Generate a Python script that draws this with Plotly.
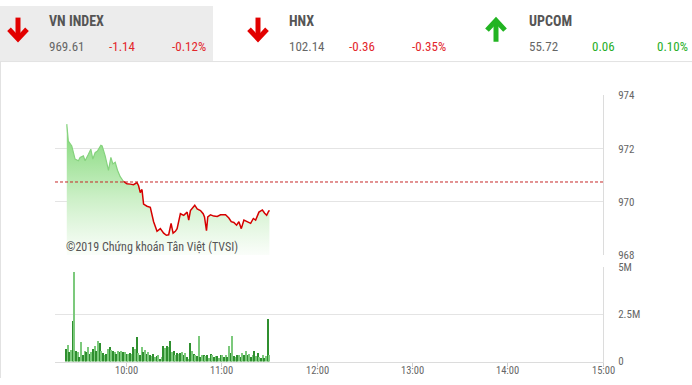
import plotly.graph_objects as go
import pandas as pd

W, H = 692, 385
DAY = "2019-06-20"

# ---------------- data ----------------
price_times = [
    "09:22:25", "09:23:24", "09:25:33", "09:27:38", "09:29:43", "09:30:47", "09:32:52", "09:33:57",
    "09:36:02", "09:37:33", "09:38:49", "09:40:16", "09:41:43", "09:43:52", "09:44:41", "09:46:35",
    "09:48:40", "09:50:11", "09:51:26", "09:52:54", "09:54:21", "09:56:03", "09:58:08", "10:00:17",
    "10:02:22", "10:04:27", "10:06:36", "10:07:37", "10:08:41", "10:09:46", "10:10:46", "10:12:55",
    "10:15:00", "10:17:05", "10:19:14", "10:21:19", "10:23:24", "10:25:07", "10:26:34", "10:28:05",
    "10:29:20", "10:30:47", "10:31:52", "10:33:57", "10:36:02", "10:38:11", "10:39:11", "10:40:16",
    "10:42:59", "10:44:30", "10:46:35", "10:48:17", "10:49:07", "10:50:22", "10:51:11", "10:52:54",
    "10:54:59", "10:57:08", "10:59:13", "11:02:22", "11:04:27", "11:05:58", "11:07:37", "11:09:19",
    "11:10:46", "11:12:17", "11:13:56", "11:16:05", "11:18:10", "11:19:52", "11:21:19", "11:23:24",
    "11:25:33", "11:27:00", "11:28:16", "11:29:43", "11:30:00",
]
price_values = [
    972.92, 972.28, 972.10, 971.61, 971.55, 971.67, 971.73, 971.55, 971.79, 971.98, 971.61, 971.85,
    971.91, 972.13, 972.10, 971.73, 971.19, 971.67, 971.43, 971.49, 971.19, 970.95, 970.77, 970.68,
    970.67, 970.65, 970.73, 970.61, 970.35, 970.47, 969.92, 969.84, 969.80, 969.26, 968.90, 969.00,
    968.83, 968.75, 968.77, 969.20, 968.83, 968.90, 969.00, 969.56, 969.50, 969.62, 969.32, 969.68,
    969.88, 969.74, 969.68, 969.56, 969.44, 968.92, 969.44, 969.52, 969.47, 969.46, 969.52, 969.52,
    969.40, 969.26, 969.23, 969.13, 969.26, 969.00, 969.32, 969.26, 969.20, 969.38, 969.32, 969.62,
    969.70, 969.58, 969.50, 969.68, 969.64,
]
ref_value = 970.75
cross_index = 22  # last point at/above the reference line

# volume in millions of shares
vol_values = [
    0.68, 0.88, 0.50, 0.60, 2.15, 4.75, 0.59, 0.50, 0.24, 1.06, 0.33, 0.54, 0.50, 0.80, 0.42, 0.50,
    0.68, 0.85, 0.55, 1.08, 0.97, 0.55, 0.45, 0.33, 0.42, 0.68, 0.76, 0.62, 0.55, 0.50, 0.42, 0.55,
    0.50, 0.55, 0.50, 0.50, 0.38, 0.42, 0.45, 0.42, 0.80, 0.68,
    1.32, 0.45, 0.36, 0.76, 0.50, 0.62, 0.42, 0.50, 0.33, 0.28, 0.42, 0.24, 0.28, 0.33, 0.16, 0.24,
    0.82, 0.71, 0.85, 0.76, 1.11, 0.50, 0.59, 0.33, 0.45, 0.42, 0.45, 0.50, 0.36, 0.45, 0.24, 0.16,
    0.97, 0.55, 0.42, 0.36, 0.28, 1.37,
    0.24, 0.33, 0.36, 0.28, 0.36, 0.21, 0.42, 0.33, 0.24, 0.28, 0.28, 0.21, 0.33, 0.33, 0.24, 0.36,
    0.24, 0.82, 0.45, 1.37, 0.28, 0.24, 0.33, 0.36, 0.24, 0.45, 0.36, 0.55, 0.33, 0.42, 0.24, 0.33,
    0.55, 0.28, 0.45, 0.24, 0.21, 0.33, 0.21, 0.28, 2.24, 0.33,
]
vol_start, vol_end = "09:22", "11:30"

price_ticks = [968, 970, 972, 974]
vol_tickvals = [0, 2.5, 5]
vol_ticktext = ["0", "2.5M", "5M"]
x_tick_labels = ["10:00", "11:00", "12:00", "13:00", "14:00", "15:00"]

idx_names = ["VN INDEX", "HNX", "UPCOM"]
idx_values = ["969.61", "102.14", "55.72"]
idx_changes = ["-1.14", "-0.36", "0.06"]
idx_pcts = ["-0.12%", "-0.35%", "0.10%"]
idx_dirs = ["down", "down", "up"]

# ---------------- helpers ----------------
def px(x):
    return x / W

def py(y):
    return 1 - y / H

FONT = "Liberation Sans Narrow, Roboto Condensed, Roboto, Arial, sans-serif"
RED = "#e3262b"
GREEN = "#27ae27"
GRID = "#e4e4e4"

t_full = [pd.Timestamp(f"{DAY} {t}") for t in price_times]
vol_x = pd.date_range(f"{DAY} {vol_start}", f"{DAY} {vol_end}", periods=len(vol_values))
bar_colors = ["#2f8f2f" if i % 2 == 0 else "#7cc97c" for i in range(len(vol_values))]
x_tick_times = [pd.Timestamp(f"{DAY} {t}") for t in x_tick_labels]

fig = go.Figure()

# baseline for the area fill (bottom of the price panel)
fig.add_trace(go.Scatter(
    x=[t_full[0], t_full[-1]], y=[price_ticks[0], price_ticks[0]], mode="lines",
    line=dict(width=0), hoverinfo="skip", xaxis="x", yaxis="y",
))
# area fill under index line
fig.add_trace(go.Scatter(
    x=t_full, y=price_values, mode="lines", line=dict(width=0),
    fill="tonexty",
    fillgradient=dict(type="vertical",
                      colorscale=[[0, "rgba(255,255,255,0.9)"], [0.45, "rgba(205,240,200,1)"],
                                  [1, "rgba(125,215,115,1)"]],
                      start=968, stop=973),
    hoverinfo="skip", xaxis="x", yaxis="y",
))
# part of line above reference (green)
fig.add_trace(go.Scatter(
    x=t_full[:cross_index + 1], y=price_values[:cross_index + 1], mode="lines",
    line=dict(color="#86d27e", width=1.2), xaxis="x", yaxis="y",
))
# part of line below reference (red)
fig.add_trace(go.Scatter(
    x=t_full[cross_index:], y=price_values[cross_index:], mode="lines",
    line=dict(color="#d60000", width=1.5), xaxis="x", yaxis="y",
))
# volume bars
fig.add_trace(go.Bar(
    x=vol_x, y=vol_values, width=45000, marker=dict(color=bar_colors, line=dict(width=0)),
    xaxis="x2", yaxis="y2",
))

x_range = [f"{DAY} 09:15", f"{DAY} 15:00"]
tickfont = dict(family=FONT, size=11, color="#666")

fig.update_layout(
    width=W, height=H, margin=dict(l=0, r=0, t=0, b=0),
    paper_bgcolor="white", plot_bgcolor="rgba(0,0,0,0)",
    showlegend=False, bargap=0,
    xaxis=dict(domain=[px(55), px(603)], type="date", range=x_range, anchor="y",
               showticklabels=False, showgrid=False, zeroline=False, showline=False),
    yaxis=dict(domain=[py(258), py(92.5)], range=[968, 974], side="right", anchor="x",
               tickvals=price_ticks, ticktext=[str(v) for v in price_ticks],
               showgrid=True, gridcolor=GRID, gridwidth=1, zeroline=False,
               showline=True, linecolor="#dcdcdc", linewidth=1,
               ticks="", ticklabelstandoff=12, tickfont=tickfont),
    xaxis2=dict(domain=[px(55), px(603)], type="date", range=x_range, anchor="y2",
                tickvals=x_tick_times, showticklabels=False,
                ticks="outside", ticklen=4, tickcolor="#cfcfcf", tickwidth=1,
                showgrid=False, zeroline=False, showline=True, linecolor="#dcdcdc"),
    yaxis2=dict(domain=[py(368), py(270)], range=[0, 5], side="right", anchor="x2",
                tickvals=vol_tickvals, ticktext=vol_ticktext,
                showgrid=True, gridcolor=GRID, gridwidth=1, zeroline=False,
                showline=True, linecolor="#dcdcdc", linewidth=1,
                ticks="", ticklabelstandoff=12, tickfont=tickfont),
)

shapes = []
# header background of the first block and frame lines
shapes.append(dict(type="rect", xref="paper", yref="paper", x0=0, x1=px(213), y0=py(57), y1=1,
                   fillcolor="#ececec", line=dict(width=0), layer="below"))
shapes.append(dict(type="line", xref="paper", yref="paper", x0=0, x1=1, y0=py(57.5), y1=py(57.5),
                   line=dict(color="#e2e2e2", width=1)))
shapes.append(dict(type="line", xref="paper", yref="paper", x0=px(0.5), x1=px(0.5), y0=0, y1=py(57),
                   line=dict(color="#e2e2e2", width=1)))
# reference (previous close) line
shapes.append(dict(type="line", xref="x domain", yref="y", x0=0, x1=1, y0=ref_value, y1=ref_value,
                   line=dict(color="#c62828", width=1, dash="3px,2px")))

# arrows in header
block_x = [0, 240, 478]
for bx, d in zip(block_x, idx_dirs):
    cx = bx + 18
    if d == "down":
        col = "#e20000"
        shaft = f"M {px(cx)},{py(12)} L {px(cx)},{py(33)}"
        head = f"M {px(cx - 9)},{py(24)} L {px(cx)},{py(34)} L {px(cx + 9)},{py(24)}"
    else:
        col = "#22b422"
        shaft = f"M {px(cx)},{py(37)} L {px(cx)},{py(16)}"
        head = f"M {px(cx - 9)},{py(25)} L {px(cx)},{py(15)} L {px(cx + 9)},{py(25)}"
    shapes.append(dict(type="path", xref="paper", yref="paper", path=shaft,
                       line=dict(color=col, width=5)))
    shapes.append(dict(type="path", xref="paper", yref="paper", path=head,
                       line=dict(color=col, width=5)))
fig.update_layout(shapes=shapes)

ann = []
text_x = [47, 287, 527]
chg_x = [107, 347, 590]
pct_x = [170, 410, 655]
for i in range(3):
    col = RED if idx_dirs[i] == "down" else GREEN
    ann.append(dict(x=px(text_x[i]), y=py(16), text=f"<b>{idx_names[i]}</b>",
                    font=dict(family=FONT, size=14, color="#555")))
    ann.append(dict(x=px(text_x[i]), y=py(42), text=idx_values[i],
                    font=dict(family=FONT, size=13, color="#666")))
    ann.append(dict(x=px(chg_x[i]), y=py(42), text=idx_changes[i],
                    font=dict(family=FONT, size=13, color=col)))
    ann.append(dict(x=px(pct_x[i]), y=py(42), text=idx_pcts[i],
                    font=dict(family=FONT, size=13, color=col)))
ann.append(dict(x=px(64), y=py(249), text="©2019 Chứng khoán Tân Việt (TVSI)",
                font=dict(family=FONT, size=12, color="#555")))
for a in ann:
    a.update(xref="paper", yref="paper", xanchor="left", yanchor="middle", showarrow=False)

# time-axis labels, placed on the bottom axis' scale and kept inside the page
for t, lab in zip(x_tick_times, x_tick_labels):
    ann.append(dict(x=t, xref="x2", y=0, yref="paper", text=lab, showarrow=False,
                    xanchor="center", yanchor="bottom", borderpad=0,
                    font=dict(family=FONT, size=10.5, color="#666")))
fig.update_layout(annotations=ann)

page_fix = (
    "var s=document.createElement('style');"
    "s.textContent='html,body{margin:0!important;padding:0!important;width:692px;height:385px;"
    "overflow:hidden!important;} svg{overflow:hidden!important;} "
    ".modebar-container{display:none!important;}';"
    "document.head.appendChild(s);"
)
fig.write_html("out.html", config={"displayModeBar": False}, post_script=page_fix)
